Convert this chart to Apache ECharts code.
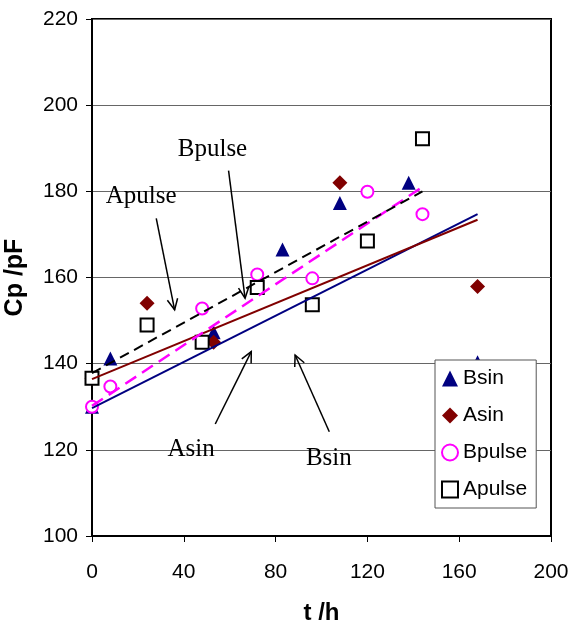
<!DOCTYPE html>
<html>
<head>
<meta charset="utf-8">
<script src="https://cdn.jsdelivr.net/npm/echarts@6/dist/echarts.min.js"></script>
<style>
html,body{margin:0;padding:0;background:#fff;}
#c{width:571px;height:625px;}
</style>
</head>
<body>
<div id="c"></div>
<script>
// ---- data ----
const xTicks = [0, 40, 80, 120, 160, 200];
const yTicks = [100, 120, 140, 160, 180, 200, 220];

const bsinPts   = [[0,130],[8,141.2],[53,147.3],[83,166.5],[108,177.3],[138,182],[168,140.3]];
const asinPts   = [[0,136.6],[24,154],[53,145],[108,182],[168,157.9]];
const bpulsePts = [[0,130],[8,134.7],[48,152.8],[72,160.7],[96,159.8],[120,179.9],[144,174.7]];
const apulsePts = [[0,136.6],[24,149],[48,145],[72,157.7],[96,153.7],[120,168.5],[144,192.2]];

// trend lines (end points)
const bsinTrend   = [[0,129.7],[168,174.7]];
const asinTrend   = [[0,136.4],[168,173.4]];
const bpulseTrend = [[0,130.2],[144,181]];
const apulseTrend = [[0,137.8],[144,180]];

// annotations: label text, label position, arrow start, arrow tip (data units)
const notes = [
  {text:'Bpulse', at:[52.5,189.8], from:[59.5,184.8], to:[66.7,155.2]},
  {text:'Apulse', at:[21.4,178.7], from:[28.0,173.7], to:[36.0,152.5]},
  {text:'Asin',   at:[43.2,120.0], from:[53.7,126.0], to:[69.4,142.8]},
  {text:'Bsin',   at:[103.2,118.1], from:[103.4,124.2], to:[88.5,142.0]}
];

const chart = echarts.init(document.getElementById('c'), null, {renderer:'canvas'});
const sans = '"Liberation Sans", Arial, sans-serif';
const serif = '"Liberation Serif", "Times New Roman", serif';

const option = {
  animation:false,
  backgroundColor:'#fff',
  grid:{left:92, right:20, top:19, bottom:89, show:true, borderColor:'#000', borderWidth:2,
        backgroundColor:'transparent', containLabel:false, outerBoundsMode:'none'},
  xAxis:{
    type:'value', min:xTicks[0], max:xTicks[xTicks.length-1], interval:40,
    name:'t /h', nameLocation:'middle', nameGap:65,
    nameTextStyle:{fontFamily:sans, fontSize:24, fontWeight:'bold', color:'#000'},
    axisLine:{show:true, onZero:false, lineStyle:{color:'#000', width:2}},
    axisTick:{show:true, inside:false, length:6, lineStyle:{color:'#000', width:1}},
    axisLabel:{color:'#000', fontFamily:sans, fontSize:21, margin:26},
    splitLine:{show:false}
  },
  yAxis:{
    type:'value', min:yTicks[0], max:yTicks[yTicks.length-1], interval:20,
    name:'Cp /pF', nameLocation:'middle', nameGap:64, nameRotate:90,
    nameTextStyle:{fontFamily:sans, fontSize:25, fontWeight:'bold', color:'#000'},
    axisLine:{show:true, onZero:false, lineStyle:{color:'#000', width:2}},
    axisTick:{show:true, inside:false, length:6, lineStyle:{color:'#000', width:1}},
    axisLabel:{color:'#000', fontFamily:sans, fontSize:21, margin:14},
    splitLine:{show:true, lineStyle:{color:'#666', width:1}}
  },
  legend:{
    orient:'vertical', left:435, top:360,
    data:['Bsin','Asin','Bpulse','Apulse'],
    backgroundColor:'#fff', borderColor:'#555', borderWidth:1,
    padding:[8,9,8,6], itemGap:16, itemWidth:16, itemHeight:16,
    textStyle:{fontFamily:sans, fontSize:21, color:'#000', lineHeight:21},
    z:20
  },
  series:[
    {name:'Bsin', type:'scatter', data:bsinPts, symbol:'triangle', symbolSize:14,
     itemStyle:{color:'#000080', opacity:1}, z:3},
    {name:'Asin', type:'scatter', data:asinPts, symbol:'diamond', symbolSize:15,
     itemStyle:{color:'#800000', opacity:1}, z:3},
    {name:'Bpulse', type:'scatter', data:bpulsePts, symbol:'emptyCircle', symbolSize:12,
     itemStyle:{color:'#ff00ff', borderColor:'#ff00ff', borderWidth:2, opacity:1}, z:3},
    {name:'Apulse', type:'scatter', data:apulsePts, symbol:'emptyRect', symbolSize:13,
     itemStyle:{color:'#000', borderColor:'#000', borderWidth:2, opacity:1}, z:3},
    {name:'BsinTrend', type:'line', data:bsinTrend, symbol:'none', silent:true,
     lineStyle:{color:'#000080', width:2}, z:4},
    {name:'AsinTrend', type:'line', data:asinTrend, symbol:'none', silent:true,
     lineStyle:{color:'#800000', width:2}, z:4},
    {name:'BpulseTrend', type:'line', data:bpulseTrend, symbol:'none', silent:true,
     lineStyle:{color:'#ff00ff', width:2.5, type:[13,7]}, z:4},
    {name:'ApulseTrend', type:'line', data:apulseTrend, symbol:'none', silent:true,
     lineStyle:{color:'#000', width:2, type:[10,6]}, z:4}
  ]
};
chart.setOption(option);

// annotations drawn through the chart's own coordinate conversion
function buildNotes(){
  const els = [];
  notes.forEach(n=>{
    const p = chart.convertToPixel({gridIndex:0}, n.at);
    const a = chart.convertToPixel({gridIndex:0}, n.from);
    const b = chart.convertToPixel({gridIndex:0}, n.to);
    els.push({type:'text', x:p[0], y:p[1], z:10,
      style:{text:n.text, font:'25px ' + serif, fill:'#000', align:'center', verticalAlign:'middle'}});
    els.push({type:'line', z:10, shape:{x1:a[0], y1:a[1], x2:b[0], y2:b[1]},
      style:{stroke:'#000', lineWidth:1.5}});
    const ang = Math.atan2(b[1]-a[1], b[0]-a[0]);
    const L = 12, w = 0.45;
    const p1 = [b[0]-L*Math.cos(ang-w), b[1]-L*Math.sin(ang-w)];
    const p2 = [b[0]-L*Math.cos(ang+w), b[1]-L*Math.sin(ang+w)];
    els.push({type:'polyline', z:10, shape:{points:[p1,[b[0],b[1]],p2]},
      style:{stroke:'#000', lineWidth:1.5, fill:null}});
  });
  chart.setOption({graphic:{elements:els}});
}
buildNotes();
</script>
</body>
</html>
